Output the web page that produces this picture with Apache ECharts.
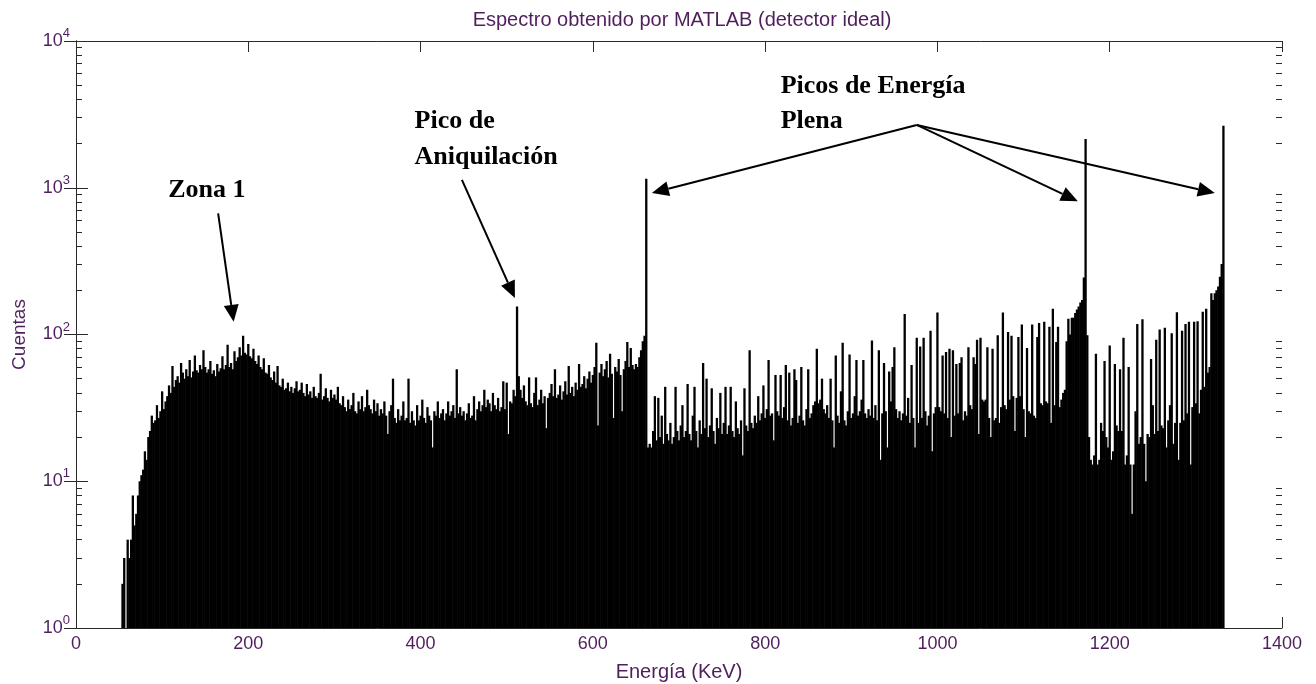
<!DOCTYPE html>
<html>
<head>
<meta charset="utf-8">
<title>Espectro obtenido por MATLAB (detector ideal)</title>
<script src="https://cdn.jsdelivr.net/npm/echarts@6/dist/echarts.min.js"></script>
<style>
  html, body { margin: 0; padding: 0; background: #ffffff; }
  #chart { width: 1316px; height: 684px; }
</style>
</head>
<body>
<div id="chart"></div>
<script>
// Histogram bins: 2 keV wide, first bin centred at 54 keV
const binStart = 54;
const binWidth = 2;

// Counts per bin, one array per 100 keV stretch
const counts054 = [2,3,1,4,3,4,8,5,6,8, 10,11,12,16,14,20,22,28,25,26, 33,27,30,41,31,35,38,45,40,61, 44,49,52,47,64,55,50,58,52,67, 51,56,72,57,55,62,58,78,60,55];
const counts154 = [58,66,54,57,52,63,56,59,71,58, 62,85,60,64,58,77,66,70,82,72, 98,75,73,86,71,69,80,66,63,72, 60,58,69,55,54,62,51,49,56,47, 61,45,44,50,42,43,47,41,44,40];
const counts254 = [43,48,41,42,47,40,38,46,39,41, 37,44,38,37,40,54,36,38,43,37, 35,42,37,39,36,44,34,33,38,32, 30,36,31,33,40,30,29,35,31,38, 30,32,42,33,31,29,36,30,34,28];
const counts354 = [31,29,35,28,21,30,33,50,27,25, 31,26,28,35,26,27,50,25,30,26, 24,33,26,28,36,27,25,32,28,26, 17,30,28,35,27,29,31,26,29,35, 28,30,33,27,58,29,32,28,30,26];
const counts454 = [29,34,27,28,38,26,31,35,30,33, 42,32,36,34,30,40,33,31,37,30, 32,48,31,47,21,35,34,42,38,155, 52,42,37,45,35,33,51,34,32,40, 51,33,36,42,34,38,23,37,40,46];
const counts554 = [38,58,37,39,45,36,41,48,39,61, 40,44,38,47,42,63,44,46,52,43, 50,56,47,53,60,88,24,55,63,52, 58,66,51,74,54,27,60,56,68,53, 30,58,66,89,60,81,62,58,63,60];
const counts654 = [70,78,90,98,1150,17,18,17,22,38, 19,37,20,28,18,44,21,19,25,18, 20,44,22,19,24,33,20,22,46,21, 19,28,44,22,17,26,21,64,23,50, 20,24,43,22,18,27,23,40,21,25];
const counts754 = [44,21,24,44,22,20,35,23,21,26, 15,43,24,22,78,25,23,28,25,38, 26,29,45,27,31,67,28,29,19,53, 30,28,53,27,32,62,26,55,24,27, 58,49,25,28,60,26,24,31,58,27];
const counts854 = [29,33,35,80,34,36,50,31,29,33, 27,50,26,17,72,28,25,41,88,26, 24,30,73,27,29,38,67,28,30,36, 67,29,27,31,28,91,27,33,26,78, 14,29,64,30,17,56,35,60,82,31];
const counts954 = [27,30,26,29,138,28,37,25,62,27, 17,95,25,83,27,95,30,24,28,106, 16,29,32,141,32,30,72,29,76,27, 80,20,78,28,63,29,64,70,26,30, 28,82,33,31,70,63,92,21,95,36];
const counts1054 = [35,36,82,27,20,80,26,27,99,25, 32,141,33,31,104,36,98,38,22,37, 96,38,117,31,20,81,30,29,117,28, 27,96,120,34,33,122,35,34,113,25, 150,33,89,113,32,36,40,42,90,128];
const counts1154 = [100,130,130,140,148,155,165,172,245,2150, 99,20,14,13,15,74,13,14,25,22, 66,20,17,84,14,16,63,24,22,58, 22,95,13,15,60,13,6,13,30,118, 18,20,127,18,10,21,20,68,33,21];
const counts1254 = [92,22,108,24,23,111,17,26,33,102, 18,25,142,14,25,106,26,118,29,122, 13,32,122,34,123,29,42,143,44,150, 55,60,191,172,191,200,212,247,302,2650];

// Axis tick values
const xTicks = [0, 200, 400, 600, 800, 1000, 1200, 1400];
const yDecades = [1, 10, 100, 1000, 10000];

// Annotation labels (anchor: left edge, vertical middle, in keV / counts)
const labelTexts = ['Zona 1', 'Pico de', 'Aniquilación', 'Picos de Energía', 'Plena'];
const labelAnchors = [[107, 966], [393, 2850], [393, 1620], [818, 4935], [818, 2850]];

// Arrows: tail and head, in keV / counts
const arrowTails = [[165, 670], [448, 1130], [976, 2680], [976, 2680], [976, 2680]];
const arrowHeads = [[183, 122], [509.5, 177], [668.5, 920], [1163, 810], [1322, 920]];

const counts = [].concat(counts054, counts154, counts254, counts354, counts454, counts554,
  counts654, counts754, counts854, counts954, counts1054, counts1154, counts1254);
const bars = counts.map((c, i) => [binStart + i * binWidth, c]);

// Minor log ticks: 2..9 in every decade
const minorTicks = [];
for (let d = 0; d < yDecades.length - 1; d++) {
  for (let k = 2; k <= 9; k++) minorTicks.push(k * yDecades[d]);
}

const sans = 'Liberation Sans';
const textColor = '#4f1f5c';
const axisColor = '#2a2a2a';

const chart = echarts.init(document.getElementById('chart'), null, { renderer: 'canvas' });

const baseX = {
  type: 'value', min: xTicks[0], max: xTicks[xTicks.length - 1], interval: 200,
  splitLine: { show: false },
  axisLine: { show: true, lineStyle: { color: axisColor, width: 1 } },
  axisTick: { show: true, inside: true, length: 11, lineStyle: { color: axisColor, width: 1 } }
};
const baseY = {
  type: 'log', logBase: 10, min: yDecades[0], max: yDecades[yDecades.length - 1],
  splitLine: { show: false },
  axisLine: { show: true, lineStyle: { color: axisColor, width: 1 } },
  axisTick: { show: true, inside: true, length: 12, lineStyle: { color: axisColor, width: 1 } }
};

const option = {
  animation: false,
  backgroundColor: '#ffffff',
  title: {
    text: 'Espectro obtenido por MATLAB (detector ideal)',
    left: 677, top: 5, textAlign: 'center',
    textStyle: { fontFamily: sans, fontSize: 20, fontWeight: 'normal', color: textColor }
  },
  grid: { left: 76, right: 34, top: 41, bottom: 56, containLabel: false, outerBoundsMode: 'none' },
  xAxis: [
    Object.assign({}, baseX, {
      position: 'bottom',
      name: 'Energía (KeV)', nameLocation: 'middle', nameGap: 34,
      nameTextStyle: { fontFamily: sans, fontSize: 20, color: textColor },
      axisLabel: { show: true, fontFamily: sans, fontSize: 18, color: textColor, margin: 7, formatter: v => String(v) }
    }),
    Object.assign({}, baseX, {
      position: 'top',
      axisLabel: { show: false }
    })
  ],
  yAxis: [
    Object.assign({}, baseY, {
      position: 'left',
      name: 'Cuentas', nameLocation: 'middle', nameRotate: 90, nameGap: 47,
      nameTextStyle: { fontFamily: sans, fontSize: 19, color: textColor },
      axisLabel: {
        show: true, margin: 6,
        formatter: v => '{b|10}{s|' + Math.round(Math.log10(v)) + '}',
        rich: {
          b: { fontFamily: sans, fontSize: 18, color: textColor, lineHeight: 28 },
          s: { fontFamily: sans, fontSize: 13, color: textColor, lineHeight: 13, verticalAlign: 'top' }
        }
      }
    }),
    Object.assign({}, baseY, { position: 'right', axisLabel: { show: false } }),
    Object.assign({}, baseY, {
      position: 'left', axisLine: { show: false }, axisLabel: { show: false },
      axisTick: { show: true, inside: true, length: 6, customValues: minorTicks, lineStyle: { color: axisColor, width: 1 } }
    }),
    Object.assign({}, baseY, {
      position: 'right', axisLine: { show: false }, axisLabel: { show: false },
      axisTick: { show: true, inside: true, length: 6, customValues: minorTicks, lineStyle: { color: axisColor, width: 1 } }
    })
  ],
  series: [{
    type: 'bar',
    xAxisIndex: 0, yAxisIndex: 0,
    data: bars,
    barWidth: 2.3,
    silent: true,
    itemStyle: { color: '#000000' }
  }]
};

chart.setOption(option);

// Annotations placed through the chart's own coordinate system
function toPx(p) {
  return chart.convertToPixel({ xAxisIndex: 0, yAxisIndex: 0 }, p);
}

const graphics = [];
labelTexts.forEach((t, i) => {
  const p = toPx(labelAnchors[i]);
  graphics.push({
    type: 'text', x: p[0], y: p[1], silent: true, z: 100,
    style: { text: t, font: 'bold 26px "Liberation Serif"', fill: '#000000', align: 'left', verticalAlign: 'middle' }
  });
});

const headLen = 17, headHalf = 7.5;
arrowTails.forEach((tail, i) => {
  const a = toPx(tail), b = toPx(arrowHeads[i]);
  const dx = b[0] - a[0], dy = b[1] - a[1];
  const len = Math.sqrt(dx * dx + dy * dy);
  const ux = dx / len, uy = dy / len;
  const cx = b[0] - ux * headLen, cy = b[1] - uy * headLen;
  graphics.push({
    type: 'line', silent: true, z: 100,
    shape: { x1: a[0], y1: a[1], x2: cx, y2: cy },
    style: { stroke: '#000000', lineWidth: 2 }
  });
  graphics.push({
    type: 'polygon', silent: true, z: 100,
    shape: { points: [[b[0], b[1]], [cx - uy * headHalf, cy + ux * headHalf], [cx + uy * headHalf, cy - ux * headHalf]] },
    style: { fill: '#000000' }
  });
});

chart.setOption({ graphic: graphics });
</script>
</body>
</html>
